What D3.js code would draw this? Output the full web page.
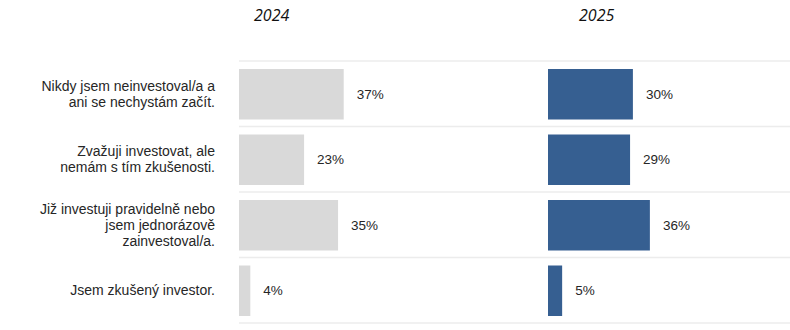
<!DOCTYPE html>
<html>
<head>
<meta charset="utf-8">
<script src="https://cdn.jsdelivr.net/npm/d3@7"></script>
<style>
  body { margin: 0; background: #fff; }
  svg { display: block; font-family: "Liberation Sans", Arial, sans-serif; }
</style>
</head>
<body>
<div id="viz"></div>
<script>
'use strict';

var categories = [
    ['Nikdy jsem neinvestoval/a a', 'ani se nechystám začít.'],
    ['Zvažuji investovat, ale', 'nemám s tím zkušenosti.'],
    ['Již investuji pravidelně nebo', 'jsem jednorázově', 'zainvestoval/a.'],
    ['Jsem zkušený investor.']
];
var years = ['2024', '2025'];
var values2024 = [37, 23, 35, 4];
var values2025 = [30, 29, 36, 5];
var colors = ['#d9d9d9', '#365f91'];

var width = 790,
    height = 330;

var svg = d3.select('#viz').append('svg')
    .attr('width', width)
    .attr('height', height);

var rowIds = categories.map((d, i) => i);
var y = d3.scaleBand()
    .domain(rowIds)
    .range([61, 323]);

var panel = d3.scaleBand()
    .domain(years)
    .range([239, 857]);

var x = d3.scaleLinear()
    .domain([0, 100])
    .range([0, 283]);

// grid lines between rows
svg.append('g')
    .selectAll('line')
    .data(rowIds.concat([rowIds.length]))
    .enter().append('line')
    .attr('x1', 239)
    .attr('x2', width)
    .attr('y1', d => d < rowIds.length ? y(d) : y.range()[1])
    .attr('y2', d => d < rowIds.length ? y(d) : y.range()[1])
    .attr('stroke', '#ececec')
    .attr('stroke-width', 1.5);

// category labels
var lineH = 16;
svg.append('g')
    .selectAll('text')
    .data(categories)
    .enter().append('text')
    .attr('text-anchor', 'end')
    .attr('font-size', 14)
    .attr('fill', '#262626')
    .each(function(lines, i) {
        var cy = y(i) + y.bandwidth() / 2;
        var top = cy - (lines.length - 1) * lineH / 2;
        d3.select(this).selectAll('tspan')
            .data(lines)
            .enter().append('tspan')
            .attr('x', 215)
            .attr('y', (d, j) => top + j * lineH)
            .attr('dy', '0.35em')
            .text(d => d);
    });

var series = [values2024, values2025];

years.forEach(function(year, k) {
    var x0 = panel(year);
    var g = svg.append('g')
        .attr('transform', 'translate(' + x0 + ',0)');

    g.append('text')
        .attr('x', k === 0 ? 15 : 31)
        .attr('y', 15)
        .attr('dy', '0.35em')
        .attr('font-family', '"Open Sans", sans-serif')
        .attr('font-style', 'italic')
        .attr('font-size', 16)
        .attr('fill', '#111')
        .text(year);

    g.selectAll('rect')
        .data(series[k])
        .enter().append('rect')
        .attr('x', 0)
        .attr('y', (d, i) => y(i) + 8)
        .attr('width', d => x(d))
        .attr('height', y.bandwidth() - 15)
        .attr('fill', colors[k]);

    g.selectAll('text.val')
        .data(series[k])
        .enter().append('text')
        .attr('class', 'val')
        .attr('x', d => x(d) + 13)
        .attr('y', (d, i) => y(i) + 8 + (y.bandwidth() - 15) / 2)
        .attr('dy', '0.35em')
        .attr('font-size', 13.5)
        .attr('fill', '#262626')
        .text(d => d + '%');
});
</script>
</body>
</html>
